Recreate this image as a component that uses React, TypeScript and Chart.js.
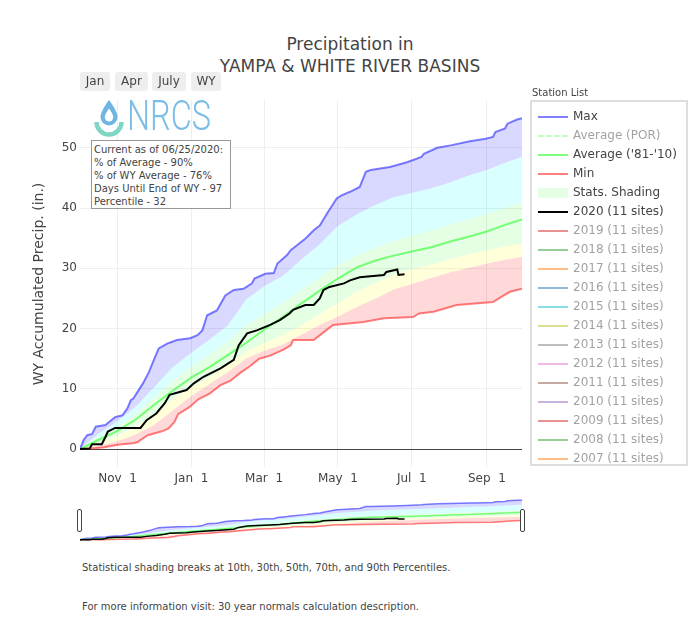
import React, { useEffect, useRef } from 'react';
import { Chart, registerables } from 'chart.js';

Chart.register(...registerables);

const FONT = "'DejaVu Sans', Verdana, sans-serif";
const TEXT = '#444';

// x = day of the water year (0 = Oct 1, 2019)
const xTickDays = [31, 92, 152, 213, 274, 336];
const xTickLabels = ['Nov  1', 'Jan  1', 'Mar  1', 'May  1', 'Jul  1', 'Sep  1'];
const yTickValues = [0, 10, 20, 30, 40, 50];

const bandDays = [0, 15, 31, 46, 61, 76, 92, 107, 122, 137, 152, 168, 183, 198, 213, 229, 244, 259, 274, 290, 305, 320, 336, 351, 365];
const avgValues = [0, 1.5, 3.0, 4.9, 7.3, 9.6, 11.9, 13.6, 15.6, 17.6, 19.8, 22.0, 24.2, 26.3, 28.3, 30.2, 31.3, 32.1, 32.8, 33.5, 34.4, 35.2, 36.1, 37.2, 38.1];
const p90Values = [0, 2.5, 4.6, 7.0, 10.2, 13.5, 16.0, 18.2, 20.5, 24.8, 27.0, 28.8, 31.5, 34.0, 37.0, 39.0, 40.5, 41.8, 42.5, 43.3, 44.2, 45.3, 46.3, 47.5, 48.5];
const p70Values = [0, 1.9, 3.6, 5.8, 8.5, 11.3, 13.6, 15.6, 17.8, 20.5, 22.4, 24.3, 26.5, 28.5, 30.5, 32.2, 33.4, 34.5, 35.4, 36.3, 37.2, 38.1, 39.0, 40.0, 40.9];
const p30Values = [0, 1.0, 2.2, 3.8, 5.7, 8.2, 10.3, 12.0, 14.0, 16.1, 17.6, 18.9, 20.6, 22.4, 24.2, 26.2, 27.6, 28.9, 29.8, 30.6, 31.5, 32.3, 33.0, 33.6, 34.1];
const p10Values = [0, 0.5, 1.3, 2.4, 4.0, 6.3, 8.8, 10.8, 12.8, 15.0, 16.3, 17.4, 19.0, 20.6, 22.0, 23.6, 25.0, 26.5, 27.4, 28.4, 29.3, 30.0, 30.8, 31.4, 31.9];

const maxDays = [0, 3, 6, 10, 13, 21, 24, 29, 35, 39, 42, 44, 52, 57, 61, 65, 72, 80, 91, 97, 101, 105, 113, 120, 127, 135, 142, 144, 153, 160, 163, 171, 174, 186, 193, 198, 204, 212, 216, 223, 231, 236, 240, 256, 270, 282, 284, 295, 306, 322, 335, 341, 343, 351, 353, 361, 365];
const maxValues = [0, 1.5, 2.3, 2.5, 3.7, 4.0, 4.5, 5.3, 5.6, 6.7, 8.1, 8.4, 10.9, 12.8, 14.8, 16.7, 17.5, 18.1, 18.4, 18.9, 19.7, 22.2, 23.0, 25.5, 26.4, 26.6, 27.5, 28.3, 29.1, 29.2, 30.8, 32.2, 33.0, 34.9, 36.3, 37.1, 39.1, 41.6, 42.1, 42.7, 43.5, 46.0, 46.3, 46.8, 47.6, 48.5, 49.0, 50.0, 50.4, 51.1, 51.5, 51.8, 52.6, 53.2, 54.0, 54.7, 54.9];

const minDays = [0, 10, 20, 31, 45, 48, 50, 56, 67, 73, 78, 81, 90, 98, 107, 116, 124, 132, 140, 148, 157, 168, 174, 176, 193, 200, 209, 234, 251, 275, 280, 292, 311, 341, 350, 355, 365];
const minValues = [0, 0.1, 0.3, 0.7, 1.0, 1.2, 1.5, 2.3, 2.9, 3.4, 4.5, 5.8, 6.9, 8.3, 9.2, 10.6, 11.3, 12.6, 13.7, 15.0, 15.5, 16.5, 17.2, 18.1, 18.1, 19.2, 20.6, 21.1, 21.7, 21.9, 22.5, 22.8, 23.9, 24.4, 25.5, 26.1, 26.6];

const wy2020Days = [0, 8, 10, 18, 21, 23, 29, 50, 55, 63, 70, 74, 88, 94, 102, 116, 127, 131, 138, 146, 157, 165, 173, 176, 186, 193, 198, 201, 206, 218, 223, 231, 251, 253, 262, 263, 268];
const wy2020Values = [0, 0.1, 0.8, 0.8, 2.0, 2.9, 3.5, 3.5, 4.8, 5.9, 7.6, 9.0, 9.8, 10.9, 12.0, 13.4, 14.8, 17.2, 19.2, 19.7, 20.6, 21.4, 22.5, 23.1, 23.9, 23.9, 25.0, 26.4, 26.9, 27.5, 28.0, 28.5, 28.9, 29.4, 29.8, 28.9, 29.0];

const legendLabels = ['Max', 'Average (POR)', "Average ('81-'10)", 'Min', 'Stats. Shading', '2020 (11 sites)', '2019 (11 sites)', '2018 (11 sites)', '2017 (11 sites)', '2016 (11 sites)', '2015 (11 sites)', '2014 (11 sites)', '2013 (11 sites)', '2012 (11 sites)', '2011 (11 sites)', '2010 (11 sites)', '2009 (11 sites)', '2008 (11 sites)', '2007 (11 sites)'];
const legendColors = ['rgba(0,0,255,0.5)', 'rgba(0,255,0,0.5)', 'rgba(0,255,0,0.5)', 'rgba(255,0,0,0.5)', 'rgba(0,255,0,0.1)', '#000', '#d62728', '#2ca02c', '#ff7f0e', '#1f77b4', '#17becf', '#bcbd22', '#7f7f7f', '#e377c2', '#8c564b', '#9467bd', '#d62728', '#2ca02c', '#ff7f0e'];
const legendKinds = ['line', 'dash', 'line', 'line', 'fill', 'line', 'line', 'line', 'line', 'line', 'line', 'line', 'line', 'line', 'line', 'line', 'line', 'line', 'line'];
const legendShown = [true, false, true, true, true, true, false, false, false, false, false, false, false, false, false, false, false, false, false];

const infoLines = ['Current as of 06/25/2020:', '% of Average - 90%', '% of WY Average - 76%', 'Days Until End of WY - 97', 'Percentile - 32'];
const rangeButtons = ['Jan', 'Apr', 'July', 'WY'];
const rangeButtonLefts = [80, 115, 152, 191];
const rangeButtonWidths = [30, 33, 34, 30];

const Y_MIN = -2.98;
const Y_MAX = 57.9;

function pts(days: number[], vals: number[]) {
  return days.map((x, i) => ({ x, y: vals[i] }));
}

function makeDatasets(lw: number): any[] {
  const band = (v: number[], fillTo: number, bg: string) => ({
    data: pts(bandDays, v),
    borderColor: 'transparent',
    borderWidth: 0,
    fill: fillTo,
    backgroundColor: bg,
    pointRadius: 0,
  });
  return [
    { label: '2020 (11 sites)', data: pts(wy2020Days, wy2020Values), borderColor: '#000', borderWidth: lw, fill: false, pointRadius: 0 },
    { label: "Average ('81-'10)", data: pts(bandDays, avgValues), borderColor: 'rgba(0,255,0,0.5)', borderWidth: lw, fill: false, pointRadius: 0 },
    { label: 'Max', data: pts(maxDays, maxValues), borderColor: 'rgba(0,0,255,0.5)', borderWidth: lw, fill: 3, backgroundColor: 'rgba(0,0,255,0.15)', pointRadius: 0 },
    band(p90Values, 4, 'rgba(0,255,255,0.15)'),
    band(p70Values, 5, 'rgba(0,255,0,0.1)'),
    band(p30Values, 6, 'rgba(255,255,0,0.15)'),
    band(p10Values, 7, 'rgba(255,0,0,0.15)'),
    { label: 'Min', data: pts(minDays, minValues), borderColor: 'rgba(255,0,0,0.5)', borderWidth: lw, fill: false, pointRadius: 0 },
  ];
}

const abs = (left: number, top: number, extra: any = {}): any => ({ position: 'absolute', left, top, ...extra });

export default function App() {
  const mainRef = useRef<HTMLCanvasElement>(null);
  const miniRef = useRef<HTMLCanvasElement>(null);

  useEffect(() => {
    Chart.defaults.font.family = FONT;
    Chart.defaults.color = TEXT;
    const main = new Chart(mainRef.current as HTMLCanvasElement, {
      type: 'line',
      data: { datasets: makeDatasets(2) },
      options: {
        animation: false,
        responsive: false,
        events: [],
        layout: { padding: { left: 0, right: 18, top: 10, bottom: 0 } },
        plugins: {
          legend: { display: false },
          tooltip: { enabled: false },
          filler: { drawTime: 'beforeDatasetsDraw' },
        } as any,
        elements: { line: { tension: 0 }, point: { radius: 0 } },
        scales: {
          x: {
            type: 'linear',
            min: 0,
            max: 365,
            afterBuildTicks: (s: any) => { s.ticks = xTickDays.map((v) => ({ value: v })); },
            afterFit: (s: any) => { s.height = 23; },
            ticks: {
              autoSkip: false,
              maxRotation: 0,
              padding: 5,
              color: TEXT,
              font: { size: 12, family: FONT },
              callback: (v: any) => { const i = xTickDays.indexOf(Number(v)); return i >= 0 ? xTickLabels[i] : ''; },
            },
            grid: { color: '#eee', drawTicks: false },
            border: { display: false },
          },
          y: {
            type: 'linear',
            min: Y_MIN,
            max: Y_MAX,
            afterBuildTicks: (s: any) => { s.ticks = yTickValues.map((v) => ({ value: v })); },
            afterFit: (s: any) => { s.width = 80; },
            ticks: { padding: 3, color: TEXT, font: { size: 12, family: FONT } },
            grid: {
              color: (ctx: any) => (ctx.tick && ctx.tick.value === 0 ? '#444' : '#eee'),
              drawTicks: false,
            },
            border: { display: false },
          },
        },
      } as any,
    });
    const mini = new Chart(miniRef.current as HTMLCanvasElement, {
      type: 'line',
      data: { datasets: makeDatasets(1.5) },
      options: {
        animation: false,
        responsive: false,
        events: [],
        layout: { padding: 0 },
        plugins: {
          legend: { display: false },
          tooltip: { enabled: false },
          filler: { drawTime: 'beforeDatasetsDraw' },
        } as any,
        elements: { line: { tension: 0 }, point: { radius: 0 } },
        scales: {
          x: { type: 'linear', min: 0, max: 365, display: false },
          y: { type: 'linear', min: Y_MIN, max: Y_MAX, display: false },
        },
      } as any,
    });
    return () => {
      main.destroy();
      mini.destroy();
    };
  }, []);

  const base: any = { fontFamily: FONT, color: TEXT };

  return (
    <div style={{ position: 'absolute', left: 0, top: 0, width: 700, height: 622, background: '#fff', overflow: 'hidden', ...base }}>
      <canvas ref={mainRef} width={540} height={400} style={abs(0, 90, { width: 540, height: 400 })} />
      <canvas ref={miniRef} width={442} height={44} style={abs(80, 498, { width: 442, height: 44 })} />

      {/* title */}
      <div style={abs(0, 33, { width: 700, textAlign: 'center', fontSize: 17, lineHeight: '22px', whiteSpace: 'pre' })}>
        {'Precipitation in\nYAMPA & WHITE RIVER BASINS'}
      </div>

      {/* range selector buttons */}
      {rangeButtons.map((b, i) => (
        <div key={b} style={abs(rangeButtonLefts[i], 72, { width: rangeButtonWidths[i], height: 19, lineHeight: '19px', background: '#eee', borderRadius: 3, textAlign: 'center', fontSize: 12 })}>{b}</div>
      ))}

      {/* logo */}
      <svg width={130} height={46} style={abs(88, 93)}>
        <path d="M21,7 C21,7 12.5,18 12.5,24 A8.5,8.5 0 0 0 29.5,24 C29.5,18 21,7 21,7 Z" fill="#6fb5e3" />
        <path d="M21,15.5 C21,15.5 16.8,21 16.8,24.3 A4.2,4.2 0 0 0 25.2,24.3 C25.2,21 21,15.5 21,15.5 Z" fill="#fff" />
        <path d="M8.5,29 A12.5,12.5 0 0 0 33.5,29" fill="none" stroke="#80d6c4" strokeWidth={4.5} />
        <text x={39} y={37} fontSize={42} fontFamily="Roboto, 'DejaVu Sans', sans-serif" fontWeight={300} fill="#7cbde6" textLength={84} lengthAdjust="spacingAndGlyphs">NRCS</text>
      </svg>

      {/* info box */}
      <div style={abs(91, 140, { width: 140, height: 69, boxSizing: 'border-box', border: '1px solid #999', background: '#fff', padding: '2px 0 0 2px', fontSize: 10, lineHeight: '13px', whiteSpace: 'nowrap' })}>
        {infoLines.map((l) => (<div key={l}>{l}</div>))}
      </div>

      {/* y axis title */}
      <div style={abs(38 - 150, 283.5 - 10, { width: 300, height: 20, lineHeight: '20px', textAlign: 'center', fontSize: 14, transform: 'rotate(-90deg)' })}>
        WY Accumulated Precip. (in.)
      </div>

      {/* legend */}
      <div style={abs(532, 87, { fontSize: 10, lineHeight: '12px' })}>Station List</div>
      <div style={abs(530, 100, { width: 158, height: 366, boxSizing: 'border-box', border: '2px solid #ddd' })} />
      {legendLabels.map((lab, i) => {
        const cy = 116.7 + 19 * i;
        const kind = legendKinds[i];
        const col = legendColors[i];
        return (
          <div key={lab} style={{ opacity: legendShown[i] ? 1 : 0.5 }}>
            {kind === 'fill' ? (
              <div style={abs(538, cy - 5, { width: 30, height: 10, background: col })} />
            ) : (
              <div style={abs(538, cy - 1, { width: 30, height: 0, borderTop: `2px ${kind === 'dash' ? 'dashed' : 'solid'} ${col}` })} />
            )}
            <div style={abs(573, cy - 9.5, { fontSize: 12, lineHeight: '19px', whiteSpace: 'nowrap' })}>{lab}</div>
          </div>
        );
      })}

      {/* range slider handles */}
      <div style={abs(77, 509, { width: 5, height: 23, boxSizing: 'border-box', border: '1px solid #444', borderRadius: 2, background: '#fff' })} />
      <div style={abs(520, 509, { width: 5, height: 23, boxSizing: 'border-box', border: '1px solid #444', borderRadius: 2, background: '#fff' })} />

      {/* footer */}
      <div style={abs(82, 561.5, { fontSize: 10, lineHeight: '12px', whiteSpace: 'nowrap' })}>
        Statistical shading breaks at 10th, 30th, 50th, 70th, and 90th Percentiles.
      </div>
      <div style={abs(82, 600.5, { fontSize: 10, lineHeight: '12px', whiteSpace: 'nowrap' })}>
        For more information visit: 30 year normals calculation description.
      </div>
    </div>
  );
}
